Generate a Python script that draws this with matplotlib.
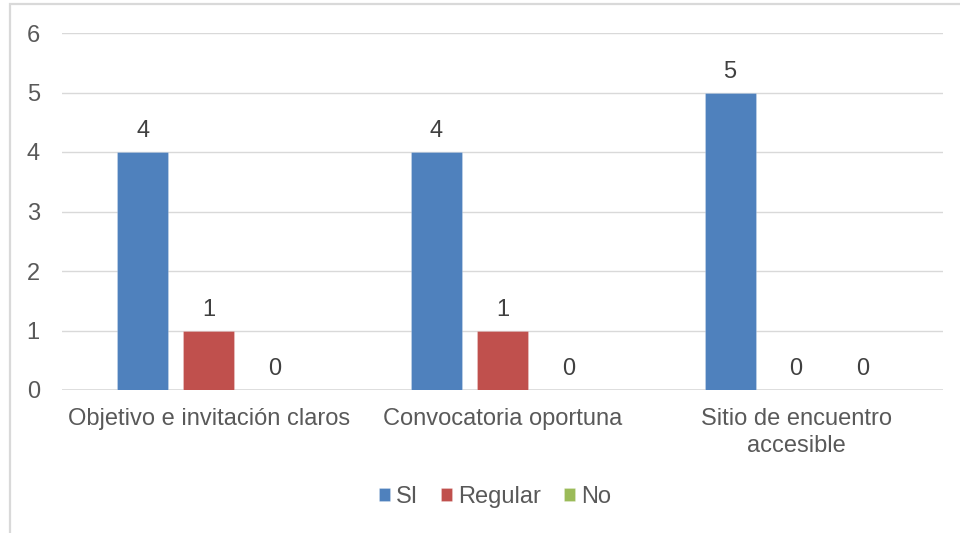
import matplotlib
matplotlib.use("Agg")
import matplotlib.pyplot as plt
from matplotlib.patches import Rectangle
import numpy as np

plt.rcParams['font.family'] = ['Liberation Sans', 'DejaVu Sans']

categories = ["Objetivo e invitación claros", "Convocatoria oportuna", "Sitio de encuentro\naccesible"]
series_names = ["SI", "Regular", "No"]
si_values = [4, 4, 5]
regular_values = [1, 1, 0]
no_values = [0, 0, 0]
y_ticks = [0, 1, 2, 3, 4, 5, 6]

colors = ["#4F81BD", "#C0504D", "#9BBB59"]
text_color = "#595959"
grid_color = "#D9D9D9"
fs = 17

fig = plt.figure(figsize=(9.6, 5.33), dpi=100)
# Chart frame partially visible along the left and top edges
fig.patches.append(Rectangle((10 / 960, -0.05), 1.2, 1 - 3.5 / 533 + 0.05,
                             transform=fig.transFigure, fill=False,
                             edgecolor="#D9D9D9", linewidth=1.6))

ax = fig.add_axes([62 / 960, 1 - 390 / 533, (943 - 62) / 960, (390 - 33) / 533])

x = np.arange(len(categories))
bar_w = 0.174
step = 0.225
all_values = [si_values, regular_values, no_values]
for i, (name, vals, col) in enumerate(zip(series_names, all_values, colors)):
    pos = x + (i - 1) * step
    ax.bar(pos, vals, width=bar_w, color=col, label=name,
           edgecolor="#FFFFFF40", linewidth=0.6, zorder=3)
    for xp, v in zip(pos, vals):
        ax.annotate(f"{v}", (xp, v), xytext=(0, 7), textcoords="offset points",
                    ha="center", va="bottom", fontsize=fs, color="#404040")

ax.set_xlim(-0.5, len(categories) - 0.5)
ax.set_ylim(0, 6)
ax.set_yticks(y_ticks)
ax.set_xticks(x)
ax.set_xticklabels(categories, fontsize=fs, color=text_color, linespacing=1.27)
ax.tick_params(axis='y', labelsize=fs, labelcolor=text_color, length=0, pad=16)
ax.tick_params(axis='x', length=0, pad=13)
ax.grid(axis='y', color=grid_color, linewidth=1.0, zorder=0)
for s in ax.spines.values():
    s.set_visible(False)
ax.axhline(0, color=grid_color, linewidth=1.2, zorder=2)

leg = fig.legend(loc="center", bbox_to_anchor=(495 / 960, 1 - 497 / 533), ncol=3,
                 frameon=False, fontsize=fs, handlelength=0.45, handleheight=0.45,
                 handletextpad=0.25, columnspacing=1.0)
for t in leg.get_texts():
    t.set_color(text_color)

fig.savefig("out.png", dpi=100, facecolor="white")
